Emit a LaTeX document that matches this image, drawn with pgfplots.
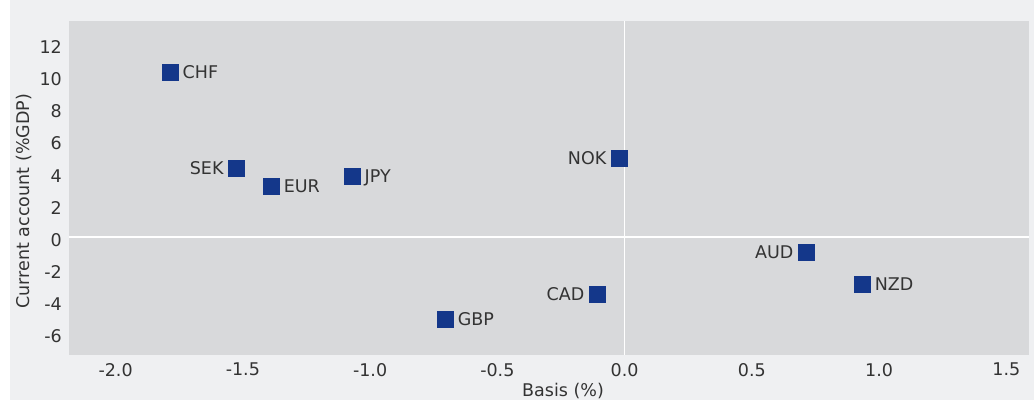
\documentclass[border=0pt]{standalone}
\usepackage{fontspec}
\setmainfont{DejaVu Sans}
\usepackage{pgfplots}
\pgfplotsset{compat=1.18}
\definecolor{outerbg}{HTML}{EFF0F2}
\definecolor{plotbg}{HTML}{D8D9DB}
\definecolor{mk}{HTML}{14378A}
\definecolor{txt}{HTML}{333333}
\begin{document}
\fontsize{17.5}{21}\selectfont
\begin{tikzpicture}[x=1pt,y=1pt]
\useasboundingbox (-69,-45.5) rectangle (965,354.5);
\fill[white] (-69,-45.5) rectangle (965,354.5);
\fill[outerbg] (-59,-45.5) rectangle (965,354.5);
\begin{axis}[
  at={(0,0)}, anchor=south west,
  scale only axis, width=960pt, height=333.5pt,
  xmin=-2.183, xmax=1.589, ymin=-7.31, ymax=13.44,
  axis background/.style={fill=plotbg},
  axis line style={draw=none},
  major tick length=0pt, minor tick length=0pt,
  xtick={-2,-1.5,-1,-0.5,0,0.5,1,1.5},
  ytick={-6,-4,-2,0,2,4,6,8,10,12},
  every tick label/.append style={inner sep=0pt, text=txt, font=\fontsize{17.5}{21}\selectfont},
  xticklabel style={/pgf/number format/.cd, fixed, fixed zerofill, precision=1, assume math mode=true},
  yticklabel style={/pgf/number format/assume math mode=true, yshift=-3pt},
  xticklabel shift=8.5pt,
  yticklabel shift=7pt,
  extra x ticks={0}, extra y ticks={0},
  extra x tick labels={}, extra y tick labels={},
  extra tick style={grid=major, major grid style={white, line width=1.5pt}},
  xlabel={Basis (\%)},
  xlabel style={at={(axis description cs:0.5146,0)}, anchor=center, yshift=-37pt, inner sep=0pt, text=txt, font=\fontsize{17.5}{21}\selectfont},
  ylabel={Current account (\%GDP)},
  ylabel style={at={(axis description cs:-0.0471,0.460)}, anchor=center, inner sep=0pt, text=txt, font=\fontsize{17.5}{21}\selectfont},
  clip=false,
]
\addplot[color=mk, only marks, mark=square*, mark size=7.8pt, mark options={fill=mk, draw=mk, line width=0.4pt},
  nodes near coords, point meta=explicit symbolic,
  every node near coord/.append style={anchor=west, xshift=12.5pt, inner sep=0pt, text=txt, text depth=0pt, font=\fontsize{17.5}{21}\selectfont}]
  table[meta=label] {
x y label
-1.786 10.27 CHF
-1.389 3.17 EUR
-1.071 3.80 JPY
0.933 -2.92 NZD
-0.705 -5.10 GBP
};
\addplot[color=mk, only marks, mark=square*, mark size=7.8pt, mark options={fill=mk, draw=mk, line width=0.4pt},
  nodes near coords, point meta=explicit symbolic,
  every node near coord/.append style={anchor=east, xshift=-12.5pt, inner sep=0pt, text=txt, text depth=0pt, font=\fontsize{17.5}{21}\selectfont}]
  table[meta=label] {
x y label
-1.526 4.29 SEK
-0.022 4.92 NOK
0.713 -0.93 AUD
-0.108 -3.55 CAD
};
\end{axis}
\end{tikzpicture}
\end{document}
